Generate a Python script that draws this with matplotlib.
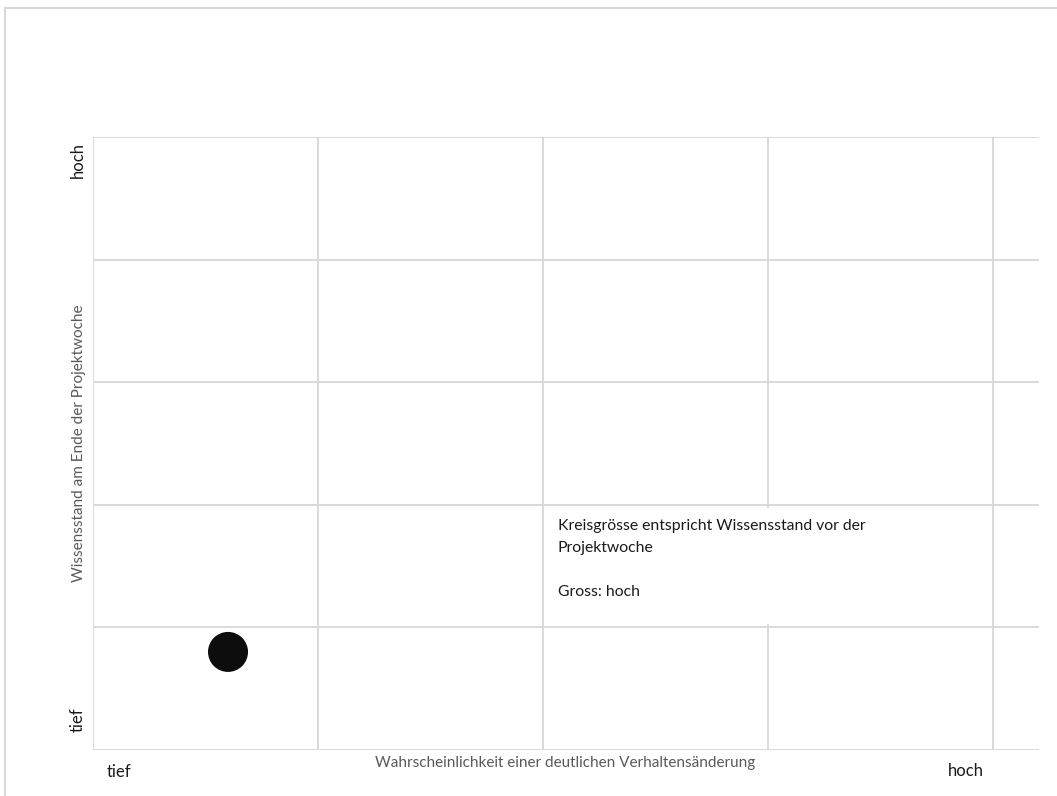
import matplotlib
matplotlib.use("Agg")
import matplotlib.pyplot as plt
from matplotlib.patches import Rectangle
from matplotlib.lines import Line2D

plt.rcParams['font.family'] = ['Lato', 'DejaVu Sans']

# Bubble data: behaviour-change likelihood, knowledge at end, knowledge before (size)
x_change = [0.6]
y_knowledge_end = [0.8]
size_knowledge_before = [830]

x_ticks = [0, 1, 2, 3, 4]
y_ticks = [0, 1, 2, 3, 4, 5]
low_label = "tief"
high_label = "hoch"
x_title = "Wahrscheinlichkeit einer deutlichen Verhaltensänderung"
y_title = "Wissensstand am Ende der Projektwoche"
note_text = "Kreisgrösse entspricht Wissensstand vor der\nProjektwoche\n\nGross: hoch"

W, H = 1057, 796
fig = plt.figure(figsize=(W / 100, H / 100), dpi=100)
fig.patch.set_facecolor("white")

grid_col = "#d9d9d9"

# outer chart-area border (top and left edges)
fig.add_artist(Line2D([4.5 / W, 1.0], [1 - 7.5 / H, 1 - 7.5 / H], color=grid_col, lw=1.5))
fig.add_artist(Line2D([4.5 / W, 4.5 / W], [0, 1 - 7.5 / H], color=grid_col, lw=1.5))

left, right, bottom, top = 93 / W, 1039 / W, (H - 750) / H, (H - 137) / H
ax = fig.add_axes([left, bottom, right - left, top - bottom])
ax.set_xlim(0, 4.204)
ax.set_ylim(0, 5)
for s in ax.spines.values():
    s.set_visible(False)
ax.set_xticks(x_ticks)
ax.set_yticks(y_ticks)
ax.tick_params(length=0, labelbottom=False, labelleft=False)
ax.grid(True, color=grid_col, lw=1.4, zorder=0)
ax.set_axisbelow(True)

# note box covering the grid
ax.add_patch(Rectangle((2.01, 1.03), 1.9, 0.94, facecolor="white", edgecolor="none", zorder=1))
ax.text(2.065, 1.885, note_text, fontsize=11.3, color="#1a1a1a", va="top", ha="left",
        linespacing=1.74, zorder=2)

ax.scatter(x_change, y_knowledge_end, s=size_knowledge_before, color="#0d0d0d",
           edgecolors="none", zorder=3, clip_on=False)

# axis end labels
fig.text(107 / W, 1 - 772 / H, low_label, fontsize=12, color="#1a1a1a", ha="left", va="center")
fig.text(966 / W, 1 - 771 / H, high_label, fontsize=12, color="#1a1a1a", ha="center", va="center")
fig.text(78 / W, 1 - 720 / H, low_label, fontsize=12, color="#1a1a1a", ha="center", va="center", rotation=90)
fig.text(78 / W, 1 - 160 / H, high_label, fontsize=12, color="#1a1a1a", ha="center", va="center", rotation=90)

# axis titles
fig.text(565 / W, 1 - 763 / H, x_title, fontsize=11, color="#595959", ha="center", va="center")
fig.text(79 / W, 1 - 443 / H, y_title, fontsize=11, color="#595959", ha="center", va="center", rotation=90)

fig.savefig("out.png", dpi=100, facecolor="white")
